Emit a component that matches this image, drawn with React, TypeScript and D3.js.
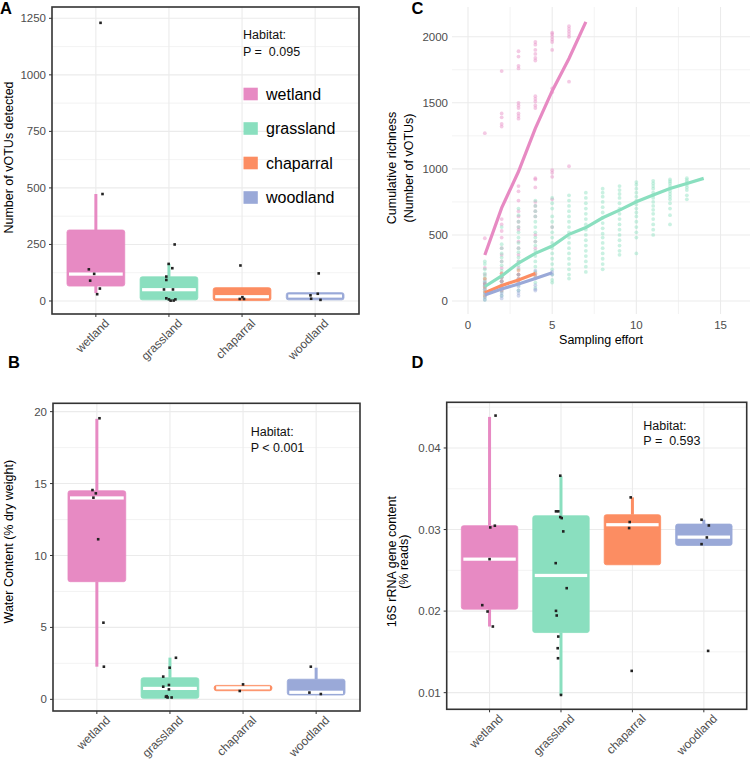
import React from "react";
import * as d3 from "d3";

// ---------- shared ----------
const habitats = ["wetland", "grassland", "chaparral", "woodland"];
const habitatColors = ["#E78AC3", "#8ADFBF", "#FC8D62", "#9AA9D8"];

// ---------- Panel A: number of vOTUs ----------
const votuQ1 = [66, 5, 2, 5];
const votuMedian = [119, 50, 19, 22];
const votuQ3 = [314, 107, 59, 37];
const votuLow = [35, 2, 2, 5];
const votuHigh = [473, 164, 59, 37];
const votuPoints = [
  [1230, 473, 140, 120, 90, 55, 30],
  [250, 164, 145, 108, 93, 51, 51, 12, 7, 1.5, 7, 2],
  [157, 17, 9, 9],
  [122, 32, 25, 10, 5],
];
const votuJitter = [
  [0.064, 0.091, -0.096, -0.023, -0.078, 0.055, 0.018],
  [0.078, -0.004, 0.046, -0.036, -0.036, -0.068, 0.055, -0.036, 0.0, 0.023, 0.088, 0.064],
  [-0.022, 0.005, -0.031, 0.027],
  [0.049, 0.036, -0.064, -0.055, 0.073],
];
const votuTicks = [0, 250, 500, 750, 1000, 1250];
const votuMinor = [125, 375, 625, 875, 1125];

// ---------- Panel B: water content ----------
const waterQ1 = [8.18, 0.07, 0.6, 0.3];
const waterMedian = [14.0, 0.76, 0.8, 0.49];
const waterQ3 = [14.5, 1.5, 0.97, 1.4];
const waterLow = [2.27, 0.07, 0.6, 0.3];
const waterHigh = [19.5, 2.9, 0.97, 2.2];
const waterPoints = [
  [19.54, 14.55, 14.32, 14.02, 11.13, 5.33, 2.27],
  [2.89, 2.2, 1.58, 1.0, 0.88, 0.69, 0.18, 0.13, 0.13, 0.22],
  [1.04, 0.58],
  [2.27, 0.47, 0.37],
];
const waterJitter = [
  [0.036, -0.06, -0.014, -0.047, 0.018, 0.09, 0.096],
  [0.082, -0.004, -0.092, -0.014, -0.092, -0.014, -0.055, -0.032, 0.023, -0.045],
  [0.0, -0.045],
  [-0.073, -0.092, 0.064],
];
const waterTicks = [0, 5, 10, 15, 20];
const waterMinor = [2.5, 7.5, 12.5, 17.5];

// ---------- Panel D: 16S rRNA ----------
const rrnaQ1 = [0.02024, 0.01737, 0.02568, 0.02805];
const rrnaMedian = [0.02637, 0.02437, 0.03059, 0.02907];
const rrnaQ3 = [0.03047, 0.03169, 0.03182, 0.03067];
const rrnaLow = [0.01811, 0.00972, 0.02568, 0.02805];
const rrnaHigh = [0.04381, 0.03652, 0.03394, 0.0312];
const rrnaPoints = [
  [0.04397, 0.03047, 0.03026, 0.02637, 0.02073, 0.01995, 0.01811],
  [0.0366, 0.03223, 0.03223, 0.03153, 0.0314, 0.02977, 0.02588, 0.02281, 0.02003, 0.01946, 0.01688, 0.01545, 0.01422, 0.00972],
  [0.03394, 0.03092, 0.03018, 0.01267],
  [0.0312, 0.0305, 0.02903, 0.02821, 0.01512],
];
const rrnaJitter = [
  [0.084, 0.074, 0.01, 0.0, -0.102, -0.028, 0.046],
  [-0.01, -0.07, -0.038, -0.01, 0.01, 0.032, -0.074, 0.08, -0.07, -0.06, -0.038, -0.046, -0.042, 0.0],
  [-0.024, -0.038, -0.046, -0.01],
  [-0.032, 0.07, 0.042, -0.032, 0.06],
];
const rrnaTicks = [0.01, 0.02, 0.03, 0.04];
const rrnaMinor = [0.015, 0.025, 0.035, 0.045];

// ---------- Panel C: accumulation curves ----------
const wetlandCurve = [
  [1270, 475, 250, 200, 160, 130, 110],
  [1740, 1420, 1390, 1340, 1320, 620, 580, 530, 480, 400, 350, 300, 250, 210, 150],
  [1890, 1850, 1780, 1760, 1500, 1480, 1460, 1420, 1400, 1380, 870, 830, 760, 680, 640, 600, 560, 540, 450, 400, 350, 300, 250, 200],
  [1960, 1940, 1900, 1870, 1840, 1820, 1550, 1530, 1510, 1480, 1460, 930, 920, 860, 750, 720, 680, 640, 500, 450, 400],
  [2030, 2020, 2000, 1980, 1960, 1900, 1610, 1580, 990, 970, 940, 770, 560],
  [2080, 2060, 2040, 2020, 2000, 1660, 1020],
];
const grasslandCurve = [
  [300, 280, 240, 210, 190, 170, 150, 130, 110, 90, 70, 50, 30, 10],
  [560, 430, 400, 360, 330, 300, 270, 230, 200, 180, 150, 120, 100, 70, 40],
  [700, 650, 600, 560, 520, 480, 440, 400, 370, 330, 300, 270, 240, 200, 160, 120, 80],
  [760, 720, 680, 640, 600, 560, 520, 480, 450, 420, 380, 340, 300, 260, 220, 180, 140, 100],
  [780, 740, 700, 640, 600, 560, 520, 480, 440, 400, 360, 320, 280, 240, 200, 160, 140],
  [800, 760, 720, 680, 640, 600, 560, 520, 480, 440, 400, 360, 320, 280, 240, 200, 170],
  [820, 780, 740, 700, 660, 620, 580, 540, 500, 460, 420, 380, 340, 300, 260, 220],
  [850, 820, 790, 750, 710, 670, 630, 590, 550, 510, 480, 440, 400, 360, 320, 280, 240],
  [870, 840, 810, 780, 740, 700, 660, 620, 580, 540, 500, 460, 420, 380, 350],
  [900, 880, 850, 820, 790, 760, 730, 700, 670, 640, 600, 560, 520, 480, 360],
  [910, 890, 870, 850, 820, 800, 780, 750, 720, 690, 660, 620, 580, 540, 500],
  [920, 905, 890, 870, 850, 830, 810, 790, 770, 740, 700, 650, 580],
  [930, 915, 900, 880, 860, 840, 800, 770],
];
const chaparralCurve = [
  [170, 130, 100, 70, 40],
  [210, 180, 150, 110, 80],
  [230, 200, 170, 140],
  [210, 190],
];
const woodlandCurve = [
  [140, 120, 90, 60, 30, 10],
  [180, 150, 120, 100, 80, 60, 40, 20],
  [200, 170, 140, 110, 80, 60, 40],
  [230, 200, 170, 120, 90, 80],
  [220, 200],
];
const wetlandMean = [348, 705, 980, 1307, 1590, 1835, 2113];
const grasslandMean = [110, 190, 288, 361, 416, 505, 556, 630, 688, 751, 802, 852, 890, 928];
const chaparralMean = [63, 118, 159, 209];
const woodlandMean = [45, 91, 129, 171, 214];
const curveXTicks = [0, 5, 10, 15];
const curveXMinor = [2.5, 7.5, 12.5];
const curveYTicks = [0, 500, 1000, 1500, 2000];
const curveYMinor = [250, 750, 1250, 1750];

const FONT = "'Liberation Sans', Arial, Helvetica, sans-serif";
const GRID = "#EBEBEB";
const TICKCOL = "#4D4D4D";

type BoxPanelProps = {
  left: number; right: number; top: number; bottom: number;
  domain: [number, number];
  major: number[]; minor: number[];
  fmt: (v: number) => string;
  q1: number[]; med: number[]; q3: number[]; lo: number[]; hi: number[];
  pts: number[][]; jit: number[][];
  titleLines: string[]; titleX: number[]; titleY: number;
  annot: string[]; annotX: number; annotY: number[];
  legend?: boolean;
};

function BoxPanel(p: BoxPanelProps) {
  const x = d3.scalePoint<string>().domain(habitats).range([p.left, p.right]).padding(0.6);
  const y = d3.scaleLinear().domain(p.domain).range([p.bottom, p.top]);
  const step = x.step();
  const bw = step * 0.79;
  return (
    <g>
      <rect x={p.left} y={p.top} width={p.right - p.left} height={p.bottom - p.top} fill="#fff" />
      {p.minor.filter((v) => y(v) > p.top && y(v) < p.bottom).map((v) => (
        <line key={"mi" + v} x1={p.left} x2={p.right} y1={y(v)} y2={y(v)} stroke={GRID} strokeWidth={0.6} />
      ))}
      {p.major.map((v) => (
        <line key={"ma" + v} x1={p.left} x2={p.right} y1={y(v)} y2={y(v)} stroke={GRID} strokeWidth={1.1} />
      ))}
      {habitats.map((h) => (
        <line key={"vx" + h} x1={x(h)!} x2={x(h)!} y1={p.top} y2={p.bottom} stroke={GRID} strokeWidth={1.1} />
      ))}
      {habitats.map((h, i) => {
        const cx = x(h)!;
        const c = habitatColors[i];
        return (
          <g key={"box" + h}>
            <line x1={cx} x2={cx} y1={y(p.hi[i])} y2={y(p.q3[i])} stroke={c} strokeWidth={3} />
            <line x1={cx} x2={cx} y1={y(p.q1[i])} y2={y(p.lo[i])} stroke={c} strokeWidth={3} />
            <rect x={cx - bw / 2} y={y(p.q3[i])} width={bw} height={Math.max(0.5, y(p.q1[i]) - y(p.q3[i]))}
              fill={c} stroke={c} strokeWidth={0.8} rx={2.2} />
            <rect x={cx - bw / 2 + 2} y={y(p.med[i]) - 1.6} width={bw - 4} height={3.2} fill="#fff" />
          </g>
        );
      })}
      {habitats.map((h, i) =>
        p.pts[i].map((v, k) => (
          <rect key={"pt" + h + k} x={x(h)! + p.jit[i][k] * step - 1.3} y={y(v) - 1.3} width={2.6} height={2.6} fill="#222" />
        ))
      )}
      <rect x={p.left} y={p.top} width={p.right - p.left} height={p.bottom - p.top} fill="none" stroke="#333" strokeWidth={1.6} />
      {p.major.map((v) => (
        <g key={"yt" + v}>
          <line x1={p.left - 3} x2={p.left} y1={y(v)} y2={y(v)} stroke="#333" strokeWidth={1} />
          <text x={p.left - 6} y={y(v)} dy="0.35em" textAnchor="end" fontSize={11.5} fill={TICKCOL} fontFamily={FONT}>
            {p.fmt(v)}
          </text>
        </g>
      ))}
      {habitats.map((h) => (
        <g key={"xt" + h}>
          <line x1={x(h)!} x2={x(h)!} y1={p.bottom} y2={p.bottom + 3} stroke="#333" strokeWidth={1} />
          <text transform={`translate(${x(h)! + 8},${p.bottom + 4}) rotate(-45)`} dy="0.72em" textAnchor="end"
            fontSize={12} fill={TICKCOL} fontFamily={FONT}>
            {h}
          </text>
        </g>
      ))}
      {p.titleLines.map((t, k) => (
        <text key={"tt" + k} transform={`translate(${p.titleX[k]},${p.titleY}) rotate(-90)`} dy="0.35em" textAnchor="middle"
          fontSize={12.5} fill="#000" fontFamily={FONT}>
          {t}
        </text>
      ))}
      {p.annot.map((t, k) => (
        <text key={"an" + k} x={p.annotX} y={p.annotY[k]} dy="0.35em" fontSize={12.5} fill="#111" fontFamily={FONT}
          style={{ whiteSpace: "pre" }}>
          {t}
        </text>
      ))}
      {p.legend &&
        habitats.map((h, i) => {
          const cy = 94 + i * 34.5;
          return (
            <g key={"lg" + h}>
              <rect x={243.5} y={cy - 6.3} width={14.3} height={12.6} fill={habitatColors[i]} />
              <text x={266} y={cy} dy="0.35em" fontSize={16} fill="#000" fontFamily={FONT}>{h}</text>
            </g>
          );
        })}
    </g>
  );
}

function CurvePanel() {
  const left = 452, right = 750, top = 7, bottom = 314;
  const x = d3.scaleLinear().domain([-0.95, 16.75]).range([left, right]);
  const y = d3.scaleLinear().domain([-98, 2225]).range([bottom, top]);
  const curves = [wetlandCurve, grasslandCurve, chaparralCurve, woodlandCurve];
  const means = [wetlandMean, grasslandMean, chaparralMean, woodlandMean];
  const line = d3.line<number>().x((_, i) => x(i + 1)).y((d) => y(d));
  return (
    <g>
      {curveYMinor.map((v) => (
        <line key={"cym" + v} x1={left} x2={right} y1={y(v)} y2={y(v)} stroke={GRID} strokeWidth={0.6} />
      ))}
      {curveXMinor.map((v) => (
        <line key={"cxm" + v} x1={x(v)} x2={x(v)} y1={top} y2={bottom} stroke={GRID} strokeWidth={0.6} />
      ))}
      {curveYTicks.map((v) => (
        <line key={"cy" + v} x1={left} x2={right} y1={y(v)} y2={y(v)} stroke={GRID} strokeWidth={1.1} />
      ))}
      {curveXTicks.map((v) => (
        <line key={"cx" + v} x1={x(v)} x2={x(v)} y1={top} y2={bottom} stroke={GRID} strokeWidth={1.1} />
      ))}
      {curves.map((cv, hi) =>
        cv.map((vals, ei) =>
          vals.map((v, k) => (
            <circle key={`c${hi}-${ei}-${k}`} cx={x(ei + 1)} cy={y(v)} r={1.9} fill={habitatColors[hi]} fillOpacity={0.45} />
          ))
        )
      )}
      {means.map((m, hi) => (
        <path key={"ln" + hi} d={line(m) || ""} fill="none" stroke={habitatColors[hi]} strokeWidth={3.2} strokeLinecap="butt" />
      ))}
      {curveYTicks.map((v) => (
        <text key={"cyl" + v} x={448} y={y(v)} dy="0.35em" textAnchor="end" fontSize={11.5} fill={TICKCOL} fontFamily={FONT}>
          {v}
        </text>
      ))}
      {curveXTicks.map((v) => (
        <text key={"cxl" + v} x={x(v)} y={325} dy="0.35em" textAnchor="middle" fontSize={11.5} fill={TICKCOL} fontFamily={FONT}>
          {v}
        </text>
      ))}
      <text x={(left + right) / 2 + 0} y={340} dy="0.35em" textAnchor="middle" fontSize={12.5} fill="#000" fontFamily={FONT}>
        Sampling effort
      </text>
      <text transform="translate(391.7,168) rotate(-90)" dy="0.35em" textAnchor="middle" fontSize={12.5} fill="#000" fontFamily={FONT}>
        Cumulative richness
      </text>
      <text transform="translate(408.5,168) rotate(-90)" dy="0.35em" textAnchor="middle" fontSize={12.5} fill="#000" fontFamily={FONT}>
        (Number of vOTUs)
      </text>
    </g>
  );
}

export default function App() {
  const fmtInt = d3.format("d");
  const fmt2 = d3.format(".2f");
  return (
    <svg width={750} height={760} style={{ position: "absolute", left: 0, top: 0, background: "#fff" }}>
      <rect x={0} y={0} width={750} height={760} fill="#fff" />
      <BoxPanel
        left={52} right={359} top={7} bottom={314} domain={[-57.5, 1300]}
        major={votuTicks} minor={votuMinor} fmt={fmtInt}
        q1={votuQ1} med={votuMedian} q3={votuQ3} lo={votuLow} hi={votuHigh}
        pts={votuPoints} jit={votuJitter}
        titleLines={["Number of vOTUs detected"]} titleX={[8.5]} titleY={157.5}
        annot={["Habitat:", "P =  0.095"]} annotX={243} annotY={[35, 52]}
        legend
      />
      <BoxPanel
        left={53} right={360} top={403.3} bottom={711} domain={[-0.81, 20.58]}
        major={waterTicks} minor={waterMinor} fmt={fmtInt}
        q1={waterQ1} med={waterMedian} q3={waterQ3} lo={waterLow} hi={waterHigh}
        pts={waterPoints} jit={waterJitter}
        titleLines={["Water Content (% dry weight)"]} titleX={[8.7]} titleY={541.7}
        annot={["Habitat:", "P < 0.001"]} annotX={250.7} annotY={[431.7, 447.7]}
      />
      <BoxPanel
        left={446.7} right={746.7} top={402.3} bottom={709.3} domain={[0.00796, 0.0456]}
        major={rrnaTicks} minor={rrnaMinor} fmt={fmt2}
        q1={rrnaQ1} med={rrnaMedian} q3={rrnaQ3} lo={rrnaLow} hi={rrnaHigh}
        pts={rrnaPoints} jit={rrnaJitter}
        titleLines={["16S rRNA gene content", "(% reads)"]} titleX={[392, 403.7]} titleY={561.7}
        annot={["Habitat:", "P =  0.593"]} annotX={643.3} annotY={[425.7, 441]}
      />
      <CurvePanel />
      <text x={0} y={13.5} fontSize={16.5} fontWeight="bold" fontFamily={FONT}>A</text>
      <text x={8} y={368} fontSize={16.5} fontWeight="bold" fontFamily={FONT}>B</text>
      <text x={411.5} y={13.5} fontSize={16.5} fontWeight="bold" fontFamily={FONT}>C</text>
      <text x={411.5} y={368} fontSize={16.5} fontWeight="bold" fontFamily={FONT}>D</text>
    </svg>
  );
}
